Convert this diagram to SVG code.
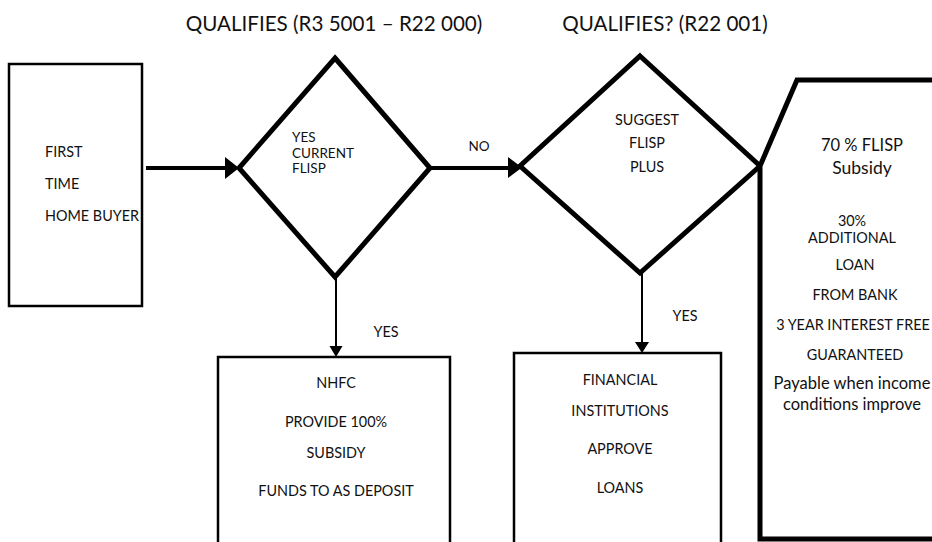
<svg xmlns="http://www.w3.org/2000/svg" width="932" height="542" viewBox="0 0 932 542">
<style>
text{font-family:Lato,"Open Sans","Liberation Sans",sans-serif;fill:#111;}
.t{font-size:14.4px;}
.s{font-size:13.5px;}
.l{font-size:16.5px;}
.title{font-size:20.6px;}
.c{text-anchor:middle;}
.box{fill:#fff;stroke:#000;stroke-width:2.5;}
.dia{fill:#fff;stroke:#000;stroke-width:5;stroke-linejoin:miter;}
.thick{fill:none;stroke:#000;stroke-width:4;}
.thin{fill:none;stroke:#000;stroke-width:2;}
.head{fill:#000;}
</style>
<rect width="932" height="542" fill="#fff"/>
<g id="titles">
<text class="title c" x="334" y="31">QUALIFIES (R3 5001 – R22 000)</text>
<text class="title c" x="665" y="31">QUALIFIES? (R22 001)</text>
</g>
<g id="connectors">
<line class="thick" x1="146" y1="168" x2="227" y2="168"/>
<polygon class="head" points="225,157 239,168 225,179"/>
<line class="thick" x1="430" y1="168" x2="510" y2="168"/>
<polygon class="head" points="508,157 522,167.5 508,178"/>
<line class="thin" x1="336" y1="277" x2="336" y2="348"/>
<polygon class="head" points="329.5,346 342.5,346 336,357"/>
<line class="thin" x1="642" y1="273" x2="642" y2="344"/>
<polygon class="head" points="635,342 649,342 642,353"/>
<text class="s c" x="479" y="151">NO</text>
<text class="t c" x="386" y="337">YES</text>
<text class="t c" x="685" y="321">YES</text>
</g>
<g id="first-time-home-buyer">
<rect class="box" x="9" y="64" width="133" height="242"/>
<text class="t" x="45" y="157">FIRST</text>
<text class="t" x="45" y="189">TIME</text>
<text class="t" x="45" y="221">HOME BUYER</text>
</g>
<g id="decision-current-flisp">
<polygon class="dia" points="335,58 430,168 335,277 239,168"/>
<text class="s" x="292" y="142">YES</text>
<text class="s" x="292" y="157.5">CURRENT</text>
<text class="s" x="292" y="173">FLISP</text>
</g>
<g id="decision-flisp-plus">
<polygon class="dia" points="640,56 760,166 640,273 520,166"/>
<text class="t c" x="647" y="125">SUGGEST</text>
<text class="t c" x="647" y="148">FLISP</text>
<text class="t c" x="647" y="172">PLUS</text>
</g>
<g id="flisp-plus-detail">
<path class="dia" d="M940,80 L797,80 L760,166 L760,539 L940,539" fill="#fff"/>
<text class="l c" x="862" y="151">70 % FLISP</text>
<text class="l c" x="862" y="174" style="font-size:17.5px">Subsidy</text>
<text class="t c" x="852" y="226">30%</text>
<text class="t c" x="852" y="243">ADDITIONAL</text>
<text class="t c" x="855" y="270">LOAN</text>
<text class="t c" x="855" y="300">FROM BANK</text>
<text class="t c" x="853" y="330">3 YEAR INTEREST FREE</text>
<text class="t c" x="855" y="360">GUARANTEED</text>
<text class="l c" x="852" y="389">Payable when income</text>
<text class="l c" x="852" y="410">conditions improve</text>
</g>
<g id="nhfc">
<rect class="box" x="218" y="357" width="232" height="200" stroke-width="2"/>
<text class="t c" x="336" y="388">NHFC</text>
<text class="t c" x="336" y="427">PROVIDE 100%</text>
<text class="t c" x="336" y="458">SUBSIDY</text>
<text class="t c" x="336" y="496">FUNDS TO AS DEPOSIT</text>
</g>
<g id="financial-institutions">
<rect class="box" x="514" y="353" width="207" height="200" stroke-width="2"/>
<text class="t c" x="620" y="385">FINANCIAL</text>
<text class="t c" x="620" y="416">INSTITUTIONS</text>
<text class="t c" x="620" y="454">APPROVE</text>
<text class="t c" x="620" y="493">LOANS</text>
</g>
</svg>
